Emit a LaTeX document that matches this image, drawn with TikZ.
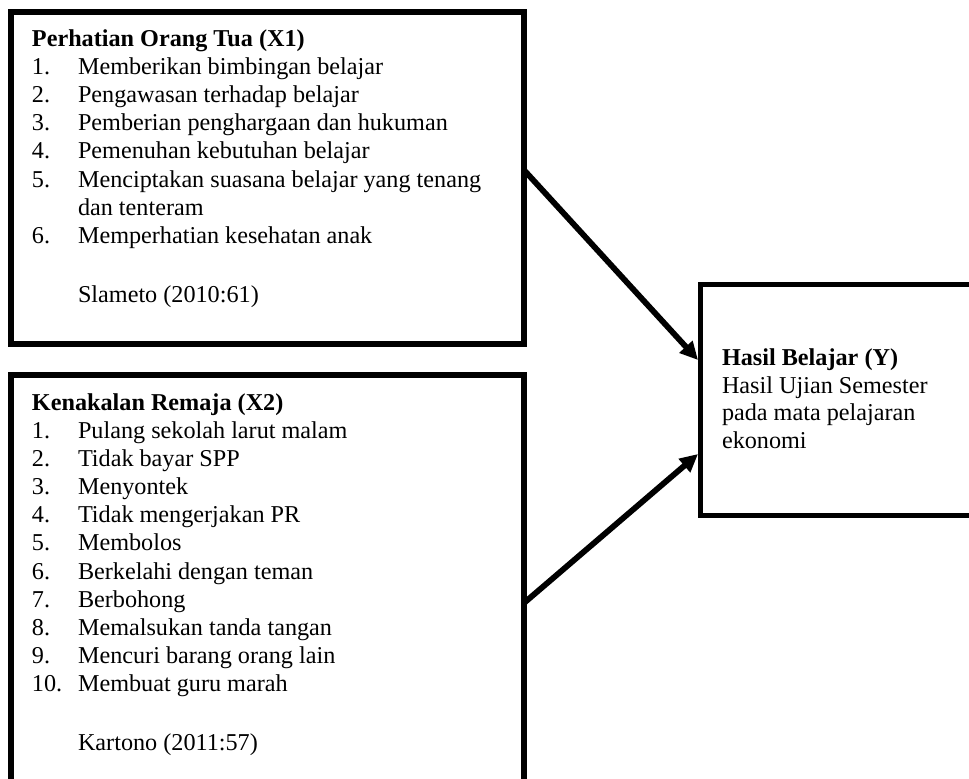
\documentclass[tikz,border=0pt]{standalone}
\usepackage{fontspec}
\setmainfont{Liberation Serif}
\usetikzlibrary{arrows.meta,calc}
\begin{document}
\begin{tikzpicture}[x=0.5pt,y=-0.5pt,
  bigbox/.style={draw,line width=3.2pt,outer sep=0pt,inner sep=0pt,anchor=north west},
  ybox/.style={draw,line width=2.5pt,outer sep=0pt,inner sep=0pt,anchor=north west},
  txt/.style={anchor=base west,inner sep=0pt,outer sep=0pt,font=\fontsize{12.1}{14}\selectfont},
  hd/.style={txt,font=\fontsize{12.1}{14}\selectfont\bfseries},
  conn/.style={line width=2.9pt,-{Triangle[length=9pt,width=8.5pt]}}]
\useasboundingbox (0,0) rectangle (969,778);
% boxes
\node[bigbox,minimum width=256.5pt,minimum height=166pt] (x1) at (11,12) {};
\node[bigbox,minimum width=256.5pt,minimum height=250pt] (x2) at (11,375) {};
\node[ybox,minimum width=200pt,minimum height=115.5pt] (yb) at (700,284) {};
% box 1 text
\node[hd]  (a0) at (32,46) {Perhatian Orang Tua (X1)};
\node[txt] (n1) at (32,74) {1.};    \node[txt] (a1) at (78,74) {Memberikan bimbingan belajar};
\node[txt] (n2) at (32,102.3) {2.}; \node[txt] (a2) at (78,102.3) {Pengawasan terhadap belajar};
\node[txt] (n3) at (32,130.6) {3.}; \node[txt] (a3) at (78,130.6) {Pemberian penghargaan dan hukuman};
\node[txt] (n4) at (32,158.9) {4.}; \node[txt] (a4) at (78,158.9) {Pemenuhan kebutuhan belajar};
\node[txt] (n5) at (32,187.2) {5.}; \node[txt] (a5) at (78,187.2) {Menciptakan suasana belajar yang tenang};
\node[txt] (a5b) at (78,215.5) {dan tenteram};
\node[txt] (n6) at (32,243.8) {6.}; \node[txt] (a6) at (78,243.8) {Memperhatian kesehatan anak};
\node[txt] (a7) at (78,302) {Slameto (2010:61)};
% box 2 text
\node[hd]  (b0) at (32,410) {Kenakalan Remaja (X2)};
\node[txt] (m1) at (32,438) {1.};    \node[txt] (b1) at (78,438) {Pulang sekolah larut malam};
\node[txt] (m2) at (32,466.2) {2.};  \node[txt] (b2) at (78,466.2) {Tidak bayar SPP};
\node[txt] (m3) at (32,494.4) {3.};  \node[txt] (b3) at (78,494.4) {Menyontek};
\node[txt] (m4) at (32,522.6) {4.};  \node[txt] (b4) at (78,522.6) {Tidak mengerjakan PR};
\node[txt] (m5) at (32,550.8) {5.};  \node[txt] (b5) at (78,550.8) {Membolos};
\node[txt] (m6) at (32,579) {6.};    \node[txt] (b6) at (78,579) {Berkelahi dengan teman};
\node[txt] (m7) at (32,607.2) {7.};  \node[txt] (b7) at (78,607.2) {Berbohong};
\node[txt] (m8) at (32,635.4) {8.};  \node[txt] (b8) at (78,635.4) {Memalsukan tanda tangan};
\node[txt] (m9) at (32,663.6) {9.};  \node[txt] (b9) at (78,663.6) {Mencuri barang orang lain};
\node[txt] (m10) at (32,691.8) {10.}; \node[txt] (b10) at (78,691.8) {Membuat guru marah};
\node[txt] (b11) at (78,750) {Kartono (2011:57)};
% box Y text
\node[hd]  (y0) at (722,365) {Hasil Belajar (Y)};
\node[txt] (y1) at (722,393) {Hasil Ujian Semester};
\node[txt] (y2) at (722,420.5) {pada mata pelajaran};
\node[txt] (y3) at (722,448) {ekonomi};
% connectors
\draw[conn] ($(x1.north east)+(0,158)$) -- ($(yb.north west)+(-2,76)$);
\draw[conn] ($(x2.north east)+(0,228)$) -- ($(yb.north west)+(-2,170)$);
\end{tikzpicture}
\end{document}
